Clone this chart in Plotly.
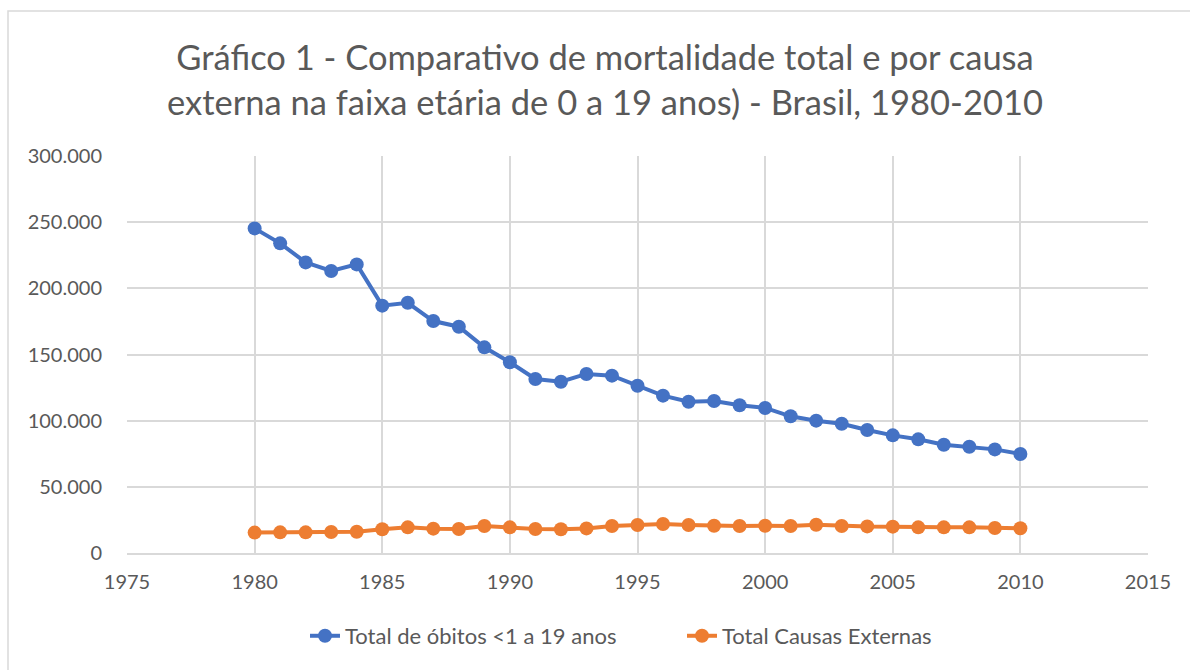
import plotly.graph_objects as go

years = list(range(1980, 2011))
total_obitos = [245300, 234000, 219600, 213100, 218100, 186900, 189100, 175300, 171000, 155400,
                144100, 131500, 129400, 135300, 134000, 126400, 118900, 114300, 114900, 111600,
                109600, 103300, 100000, 97700, 92900, 88900, 85900, 81800, 80300, 78300, 74800]
causas_externas = [15400, 15600, 15600, 15900, 16100, 17900, 19400, 18400, 18100, 20400,
                   19400, 18100, 17900, 18600, 20400, 21200, 21900, 21200, 20600, 20400,
                   20600, 20400, 21400, 20400, 20100, 19900, 19400, 19400, 19400, 18900, 18700]

series_names = ["Total de óbitos <1 a 19 anos", "Total Causas Externas"]
ytick_vals = [0, 50000, 100000, 150000, 200000, 250000, 300000]
ytick_text = ["0", "50.000", "100.000", "150.000", "200.000", "250.000", "300.000"]
xtick_vals = [1975, 1980, 1985, 1990, 1995, 2000, 2005, 2010, 2015]
xtick_text = [str(v) for v in xtick_vals]
title_text = "Gráfico 1 - Comparativo de mortalidade total e por causa<br>externa na faixa etária de 0 a 19 anos) - Brasil, 1980-2010"

FONT = "Lato"
GRAY = "#595959"
GRID = "#d9d9d9"

fig = go.Figure()
fig.add_trace(go.Scatter(x=years, y=total_obitos, mode="lines+markers", name=series_names[0],
                         line=dict(color="#4472c4", width=4),
                         marker=dict(color="#4472c4", size=14)))
fig.add_trace(go.Scatter(x=years, y=causas_externas, mode="lines+markers", name=series_names[1],
                         line=dict(color="#ed7d31", width=4),
                         marker=dict(color="#ed7d31", size=14)))

fig.update_layout(
    width=1190, height=670,
    margin=dict(l=127, r=42, t=156, b=117),
    paper_bgcolor="white", plot_bgcolor="white",
    font=dict(family=FONT, color=GRAY, size=20),
    title=dict(text=title_text, x=605/1190, xanchor="center", xref="container",
               y=1 - 70/670, yanchor="middle", yref="container",
               font=dict(family=FONT, size=34.5, color=GRAY)),
    showlegend=True,
    legend=dict(orientation="h", x=(305 - 127) / 1021, xanchor="left", y=-0.209, yanchor="middle",
                font=dict(family=FONT, size=22, color=GRAY),
                entrywidth=332, entrywidthmode="pixels",
                traceorder="normal"),
    xaxis=dict(range=[1975, 2015], tickvals=xtick_vals, ticktext=xtick_text,
               showgrid=True, gridcolor=GRID, gridwidth=1.5,
               showline=True, linecolor=GRID, linewidth=1.5, zeroline=False,
               ticks="outside", ticklen=10, tickcolor="rgba(0,0,0,0)",
               tickfont=dict(size=20, color=GRAY)),
    yaxis=dict(range=[0, 300000], tickvals=ytick_vals, ticktext=ytick_text,
               showgrid=True, gridcolor=GRID, gridwidth=1.5,
               showline=False, zeroline=False,
               ticks="outside", ticklen=20, tickcolor="rgba(0,0,0,0)",
               tickfont=dict(size=20, color=GRAY)),
    shapes=[dict(type="rect", xref="paper", yref="paper",
                 x0=(8 - 127) / 1021, x1=(1200 - 127) / 1021,
                 y0=(553 - 680) / 397, y1=(553 - 11) / 397,
                 line=dict(color=GRID, width=1.5), fillcolor="rgba(0,0,0,0)", layer="below")],
)

fig.write_html("out.html", config={"displayModeBar": False},
               post_script="document.body.style.margin='0';document.body.style.overflow='hidden';")
